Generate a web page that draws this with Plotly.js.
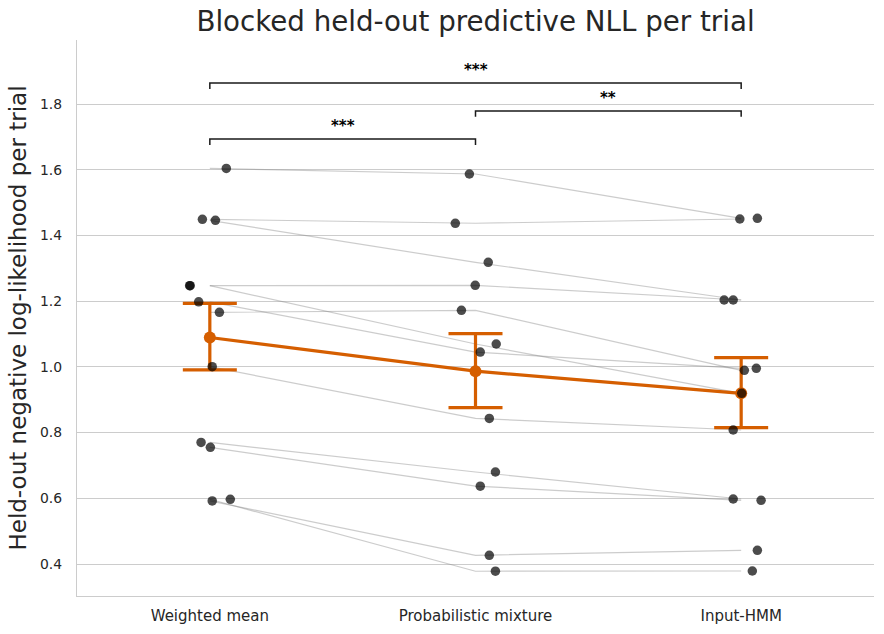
<!DOCTYPE html>
<html>
<head>
<meta charset="utf-8">
<script src="https://cdn.plot.ly/plotly-3.0.1.min.js"></script>
<style>html,body{margin:0;padding:0;background:#fff;}#chart{width:884px;height:634px;}</style>
</head>
<body>
<div id="chart"></div>
<script>
const models = ['Weighted mean', 'Probabilistic mixture', 'Input-HMM'];
// per-subject held-out NLL per trial
const nllWeighted = [1.604, 1.449, 1.446, 1.247, 1.247, 1.198, 1.166, 1.0005, 0.770, 0.755, 0.592, 0.597];
const nllMixture  = [1.587, 1.437, 1.318, 1.248, 1.0696, 1.045, 1.172, 0.843, 0.680, 0.637, 0.4265, 0.378];
const nllHMM      = [1.452, 1.450, 1.2035, 1.2035, 0.9195, 0.9956, 0.9895, 0.8078, 0.5978, 0.5939, 0.4417, 0.3787];
// strip-plot jitter offsets (category units)
const jitterWeighted = [0.062, -0.028, 0.021, -0.076, -0.074, -0.042, 0.036, 0.009, -0.033, 0.002, 0.009, 0.077];
const jitterMixture  = [-0.023, -0.076, 0.048, -0.001, 0.078, 0.018, -0.053, 0.052, 0.075, 0.018, 0.052, 0.075];
const jitterHMM      = [0.061, -0.005, -0.064, -0.030, 0.002, 0.057, 0.012, -0.030, -0.030, 0.075, 0.061, 0.042];
// 95% CI of the mean
const ciLow  = [0.991, 0.876, 0.815];
const ciHigh = [1.193, 1.101, 1.028];
// significance brackets
const bracketFrom   = [0, 1, 0];
const bracketTo     = [1, 2, 2];
const bracketLevel  = [1.6935, 1.779, 1.864];
const bracketLabels = ['***', '**', '***'];

const series = [nllWeighted, nllMixture, nllHMM];
const jitters = [jitterWeighted, jitterMixture, jitterHMM];
const nSub = nllWeighted.length;
const means = series.map(s => s.reduce((a, b) => a + b, 0) / s.length);

// subject lines
const lx = [], ly = [];
for (let i = 0; i < nSub; i++) {
  for (let m = 0; m < series.length; m++) { lx.push(m); ly.push(series[m][i]); }
  lx.push(null); ly.push(null);
}
const subjLines = {
  x: lx, y: ly, type: 'scatter', mode: 'lines', hoverinfo: 'skip',
  line: { color: 'rgba(128,128,128,0.4)', width: 1.2 }, showlegend: false
};

const meanTrace = {
  x: [0, 1, 2], y: means, type: 'scatter', mode: 'lines+markers',
  line: { color: '#d55e00', width: 3.2 },
  marker: { color: '#d55e00', size: 12 },
  error_y: {
    type: 'data', symmetric: false,
    array: means.map((m, i) => ciHigh[i] - m),
    arrayminus: means.map((m, i) => m - ciLow[i]),
    color: '#d55e00', thickness: 3.2, width: 27
  },
  showlegend: false
};

const px = [], py = [];
for (let m = 0; m < series.length; m++) {
  for (let i = 0; i < nSub; i++) { px.push(m + jitters[m][i]); py.push(series[m][i]); }
}
const pts = {
  x: px, y: py, type: 'scatter', mode: 'markers',
  marker: { color: 'rgba(0,0,0,0.7)', size: 9.5, line: { width: 0 } },
  showlegend: false
};

const shapes = [], annotations = [];
const tickH = 0.018;
for (let k = 0; k < bracketFrom.length; k++) {
  const x0 = bracketFrom[k], x1 = bracketTo[k], h = bracketLevel[k];
  shapes.push({
    type: 'path', xref: 'x', yref: 'y',
    path: `M ${x0} ${h - tickH} L ${x0} ${h} L ${x1} ${h} L ${x1} ${h - tickH}`,
    line: { color: '#1a1a1a', width: 1.5 }
  });
  annotations.push({
    x: (x0 + x1) / 2, y: h, xref: 'x', yref: 'y', text: '<b>' + bracketLabels[k] + '</b>',
    showarrow: false, yanchor: 'bottom', yshift: 2,
    font: { family: 'DejaVu Sans', size: 15, color: '#000' }
  });
}

const layout = {
  width: 884, height: 634,
  margin: { l: 77, r: 10, t: 40, b: 38 },
  paper_bgcolor: '#fff', plot_bgcolor: '#fff',
  font: { family: 'DejaVu Sans', color: '#262626' },
  title: {
    text: 'Blocked held-out predictive NLL per trial',
    font: { family: 'DejaVu Sans', size: 27.7, color: '#262626' },
    x: 0.5, xanchor: 'center', xref: 'paper',
    y: 0.966, yanchor: 'middle', yref: 'container'
  },
  xaxis: {
    range: [-0.5, 2.5], tickmode: 'array', tickvals: [0, 1, 2], ticktext: models,
    showgrid: false, zeroline: false, showline: true, linecolor: '#cccccc', linewidth: 1.25,
    ticks: 'outside', ticklen: 6, tickcolor: 'rgba(0,0,0,0)',
    tickfont: { family: 'DejaVu Sans', size: 15, color: '#262626' }
  },
  yaxis: {
    range: [0.3026, 1.9948], tickmode: 'array',
    tickvals: [0.4, 0.6, 0.8, 1.0, 1.2, 1.4, 1.6, 1.8],
    ticktext: ['0.4', '0.6', '0.8', '1.0', '1.2', '1.4', '1.6', '1.8'],
    showgrid: true, gridcolor: '#cccccc', gridwidth: 1, zeroline: false,
    showline: true, linecolor: '#cccccc', linewidth: 1.25,
    ticks: 'outside', ticklen: 11, tickcolor: 'rgba(0,0,0,0)',
    tickfont: { family: 'DejaVu Sans', size: 13.9, color: '#262626' },
    title: { text: 'Held-out negative log-likelihood per trial', standoff: 6,
             font: { family: 'DejaVu Sans', size: 23, color: '#262626' } }
  },
  shapes: shapes,
  annotations: annotations,
  showlegend: false
};

Plotly.newPlot('chart', [subjLines, meanTrace, pts], layout, { displayModeBar: false, staticPlot: true });
</script>
</body>
</html>
